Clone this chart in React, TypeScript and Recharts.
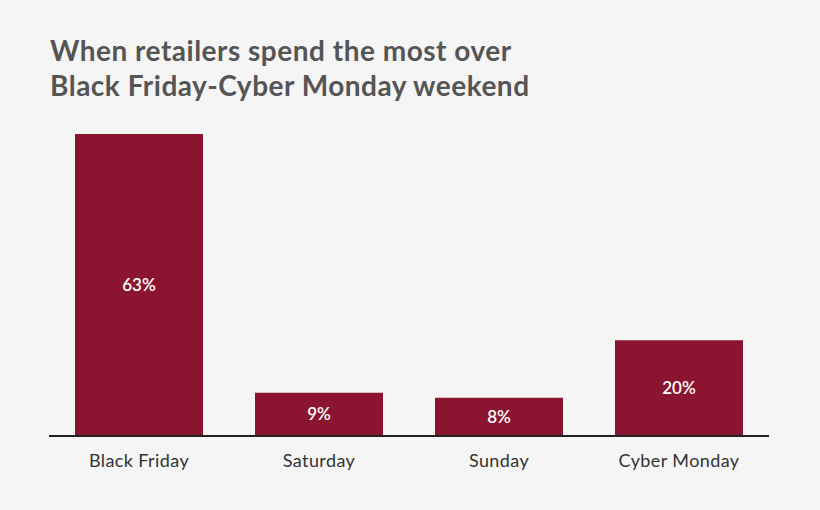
import { Bar, BarChart, LabelList, XAxis, YAxis } from "recharts";

const days = ["Black Friday", "Saturday", "Sunday", "Cyber Monday"];
const shares = [63, 9, 8, 20];

const data = days.map((day, i) => ({ day, share: shares[i] }));

export default function App() {
  return (
    <div
      style={{
        position: "relative",
        width: 820,
        height: 510,
        background: "#f5f5f5",
        fontFamily: "Lato, 'Open Sans', sans-serif",
      }}
    >
      <style>{"body{margin:0}"}</style>
      <div
        style={{
          position: "absolute",
          left: 50,
          top: 33,
          fontSize: 28,
          lineHeight: "35px",
          fontWeight: 700,
          letterSpacing: 0.5,
          color: "#555555",
        }}
      >
        When retailers spend the most over
        <br />
        Black Friday-Cyber Monday weekend
      </div>
      <BarChart
        width={820}
        height={510}
        data={data}
        margin={{ top: 134, right: 51, left: 49, bottom: 44 }}
        barCategoryGap={26}
      >
        <XAxis
          dataKey="day"
          tickLine={false}
          axisLine={{ stroke: "#222", strokeWidth: 2 }}
          tick={{ fill: "#333", fontSize: 18, letterSpacing: 0.4 }}
          dy={10}
        />
        <YAxis hide domain={[0, 63]} />
        <Bar dataKey="share" fill="#8b1530" isAnimationActive={false}>
          <LabelList
            dataKey="share"
            position="center"
            fill="#ffffff"
            fontSize={17}
            fontWeight={600}
            formatter={(v: number) => `${v}%`}
          />
        </Bar>
      </BarChart>
    </div>
  );
}
